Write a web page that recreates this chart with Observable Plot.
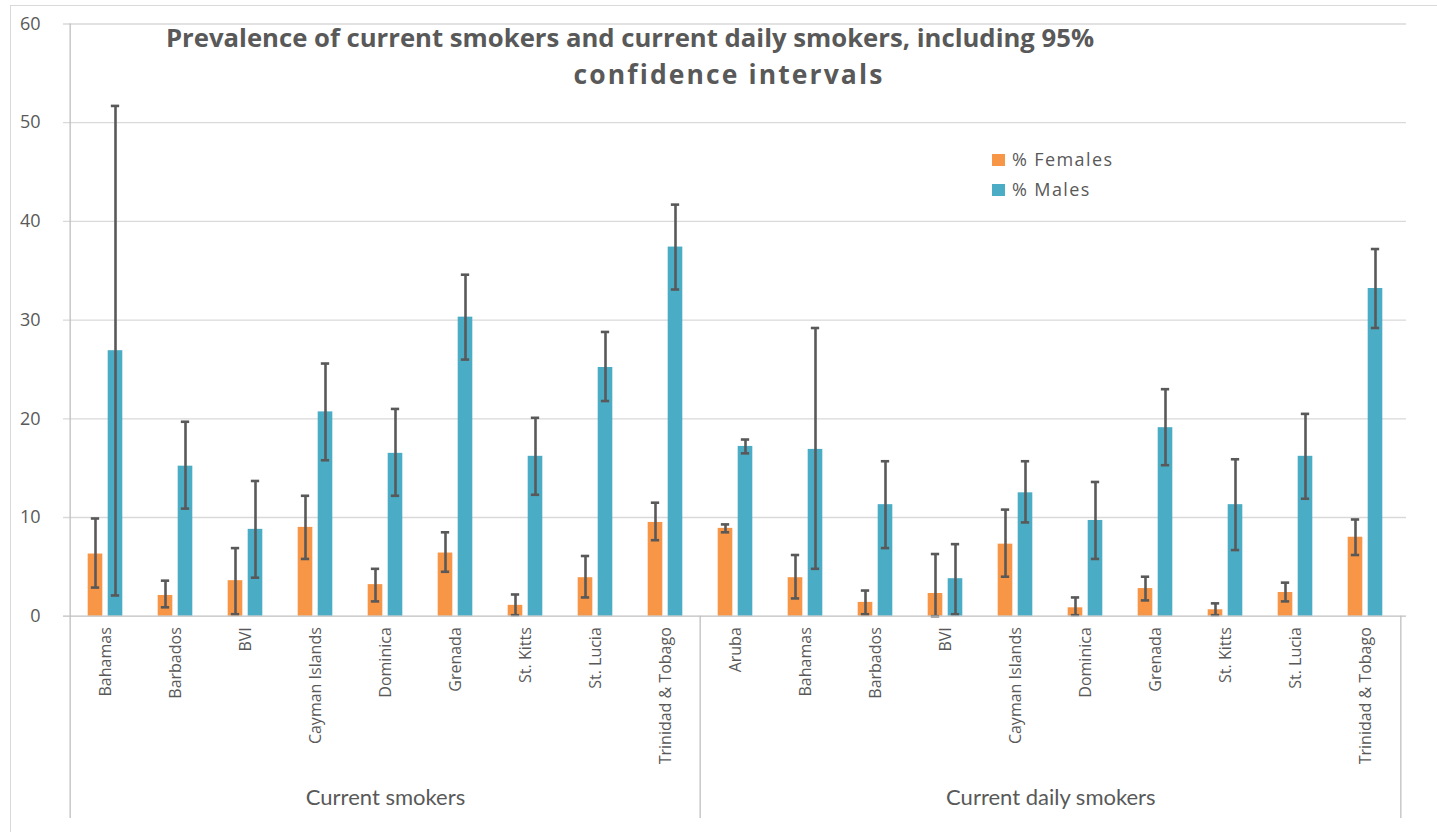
<!DOCTYPE html>
<html><head><meta charset="utf-8">
<script src="https://cdn.jsdelivr.net/npm/d3@7"></script>
<script src="https://cdn.jsdelivr.net/npm/@observablehq/plot@0.6"></script>
<style>
body{margin:0;background:#fff;}
#wrap{position:relative;width:1437px;height:832px;overflow:hidden;font-family:"Open Sans",sans-serif;}
#border{position:absolute;left:10px;top:5px;width:1440px;height:840px;border:1px solid #d9d9d9;box-sizing:border-box;}
#chart{position:absolute;left:0;top:0;}
.title{position:absolute;font-weight:bold;font-size:25.7px;color:#595959;white-space:nowrap;transform:translateX(-50%);line-height:1;}
.leg{position:absolute;font-size:18px;letter-spacing:1.4px;color:#595959;white-space:nowrap;line-height:1;}
.sw{display:inline-block;width:13px;height:12px;margin-right:7px;vertical-align:0px;}
</style>
</head><body>
<div id="wrap">
  <div id="border"></div>
  <div id="chart"></div>
  <div class="title" style="left:630px;top:25px;">Prevalence of current smokers and current daily smokers, including 95%</div>
  <div class="title" style="left:729px;top:61px;font-size:26.5px;letter-spacing:2.1px;">confidence intervals</div>
  <div class="leg" style="left:992px;top:150px;"><span class="sw" style="background:#F79646"></span>% Females</div>
  <div class="leg" style="left:992px;top:180px;"><span class="sw" style="background:#4BACC6"></span>% Males</div>
</div>
<script>
// ---- data ----
const groups = ["Current smokers", "Current daily smokers"];
const countriesCurrent = ["Bahamas","Barbados","BVI","Cayman Islands","Dominica","Grenada","St. Kitts","St. Lucia","Trinidad & Tobago"];
const countriesDaily = ["Aruba","Bahamas","Barbados","BVI","Cayman Islands","Dominica","Grenada","St. Kitts","St. Lucia","Trinidad & Tobago"];

const femaleCurrent   = [6.3, 2.1, 3.6, 9.0, 3.2, 6.4, 1.1, 3.9, 9.5];
const femaleCurrentLo = [2.9, 0.9, 0.2, 5.8, 1.5, 4.5, 0.1, 1.9, 7.7];
const femaleCurrentHi = [9.9, 3.6, 6.9, 12.2, 4.8, 8.5, 2.2, 6.1, 11.5];
const maleCurrent     = [26.9, 15.2, 8.8, 20.7, 16.5, 30.3, 16.2, 25.2, 37.4];
const maleCurrentLo   = [2.1, 10.9, 3.9, 15.8, 12.2, 26.0, 12.3, 21.8, 33.1];
const maleCurrentHi   = [51.7, 19.7, 13.7, 25.6, 21.0, 34.6, 20.1, 28.8, 41.7];

const femaleDaily   = [8.9, 3.9, 1.4, 2.3, 7.3, 0.85, 2.8, 0.65, 2.4, 8.0];
const femaleDailyLo = [8.5, 1.8, 0.2, 0.0, 4.0, 0.1, 1.6, 0.1, 1.5, 6.2];
const femaleDailyHi = [9.3, 6.2, 2.6, 6.3, 10.8, 1.9, 4.0, 1.3, 3.4, 9.8];
const maleDaily     = [17.2, 16.9, 11.3, 3.8, 12.5, 9.7, 19.1, 11.3, 16.2, 33.2];
const maleDailyLo   = [16.5, 4.8, 6.9, 0.2, 9.5, 5.8, 15.3, 6.7, 11.9, 29.2];
const maleDailyHi   = [17.9, 29.2, 15.7, 7.3, 15.7, 13.6, 23.0, 15.9, 20.5, 37.2];

const yTicks = [0, 10, 20, 30, 40, 50, 60];

// ---- build tables ----
const keys = [
  ...countriesCurrent.map(c => groups[0] + "|" + c),
  ...countriesDaily.map(c => groups[1] + "|" + c)
];
function rows(group, countries, v, lo, hi) {
  return countries.map((c, i) => ({key: group + "|" + c, country: c, value: v[i], lo: lo[i], hi: hi[i]}));
}
const females = [...rows(groups[0], countriesCurrent, femaleCurrent, femaleCurrentLo, femaleCurrentHi),
                 ...rows(groups[1], countriesDaily, femaleDaily, femaleDailyLo, femaleDailyHi)];
const males = [...rows(groups[0], countriesCurrent, maleCurrent, maleCurrentLo, maleCurrentHi),
               ...rows(groups[1], countriesDaily, maleDaily, maleDailyLo, maleDailyHi)];

const W = 1437, H = 832, mL = 63, mR = 31, mT = 23.5, mB = 216.3;
const half = (W - mL - mR) / keys.length / 2;
const off = 10, barInset = half - 7.65, capInset = half - 4.5;
const ink = "#595959", axisCol = "#bfbfbf";
const FEM = "#F79646", MAL = "#4BACC6";

function series(data, fill, dx) {
  return [
    Plot.barY(data, {x: "key", y: "value", fill, dx, insetLeft: barInset, insetRight: barInset}),
    Plot.ruleX(data, {x: "key", y1: "lo", y2: "hi", dx, stroke: ink, strokeWidth: 2.6}),
    Plot.tickY(data, {x: "key", y: "lo", dx, insetLeft: capInset, insetRight: capInset, stroke: ink, strokeWidth: 2.6}),
    Plot.tickY(data, {x: "key", y: "hi", dx, insetLeft: capInset, insetRight: capInset, stroke: ink, strokeWidth: 2.6})
  ];
}

const chart = Plot.plot({
  width: W, height: H,
  marginLeft: mL, marginRight: mR, marginTop: mT, marginBottom: mB,
  style: {fontFamily: "'Open Sans', sans-serif", color: ink, background: "transparent", overflow: "visible"},
  x: {domain: keys, padding: 0},
  y: {domain: [0, 60]},
  marks: [
    Plot.ruleY(yTicks.filter(d => d > 0), {stroke: "#d9d9d9", strokeWidth: 1.3}),
    Plot.axisY(yTicks, {tickSize: 0, tickPadding: 23, fontSize: 18, fill: ink, label: null}),
    Plot.axisX({tickRotate: -90, tickSize: 0, tickPadding: 11, fontSize: 16, fill: ink, label: null,
      tickFormat: k => k.split("|")[1]}),
    // y axis line and category separators
    Plot.ruleX([keys[0]], {x: d => d, dx: -half, y1: 60, y2: -20.5, stroke: axisCol, strokeWidth: 1.3}),
    Plot.ruleX([keys[9]], {x: d => d, dx: -half, y1: 0, y2: -20.5, stroke: axisCol, strokeWidth: 1.3}),
    Plot.ruleX([keys[18]], {x: d => d, dx: half, y1: 0, y2: -20.5, stroke: axisCol, strokeWidth: 1.3}),
    ...series(females, FEM, -off),
    ...series(males, MAL, off),
    Plot.ruleY([0], {stroke: axisCol, strokeWidth: 1.3}),
    // group labels
    Plot.text([groups[0]], {x: () => keys[4], frameAnchor: "bottom", dy: 189, text: d => d,
      fontSize: 22, fill: ink, fontFamily: "Lato, sans-serif"}),
    Plot.text([groups[1]], {x: () => keys[13], dx: half, frameAnchor: "bottom", dy: 189, text: d => d,
      fontSize: 22, fill: ink, fontFamily: "Lato, sans-serif"})
  ]
});
document.getElementById("chart").appendChild(chart);
</script>
</body></html>
